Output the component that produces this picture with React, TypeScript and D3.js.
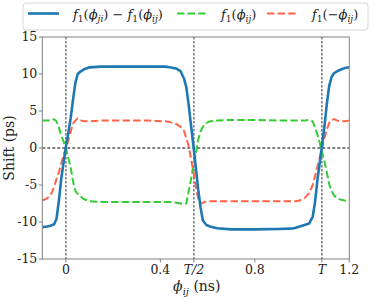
import * as d3 from "d3";

// phase grid (ns) and the three measured curves (ps)
const phi = [
  -0.1, -0.08, -0.065, -0.05, -0.04, -0.03, -0.02, -0.01, 0, 0.01, 0.02, 0.03,
  0.04, 0.05, 0.06, 0.075, 0.1, 0.15, 0.25, 0.35, 0.42, 0.44, 0.47, 0.485, 0.5,
  0.51, 0.52, 0.53, 0.54, 0.55, 0.56, 0.57, 0.58, 0.595, 0.61, 0.64, 0.7, 0.8,
  0.9, 0.95, 0.97, 0.99, 1.01, 1.03, 1.045, 1.055, 1.065, 1.075, 1.085, 1.095,
  1.105, 1.115, 1.125, 1.135, 1.15, 1.165, 1.18, 1.2,
];
const diff = [
  -10.7, -10.6, -10.5, -10.3, -9.6, -7.2, -4.2, -2.0, 0.2, 2.0, 4.0, 6.5,
  8.8, 10.0, 10.3, 10.6, 10.9, 11.0, 11.0, 11.0, 11.0, 10.9, 10.7, 10.4, 9.4,
  8.2, 5.8, 3.0, 0.3, -2.6, -5.6, -8.0, -9.8, -10.4, -10.6, -10.85, -11.0, -11.0,
  -10.95, -10.9, -10.8, -10.6, -10.4, -10.2, -9.3, -7.3, -4.3, -2.0, 0.5, 3.0,
  6.0, 8.4, 9.6, 10.1, 10.4, 10.6, 10.8, 10.9,
];
const fPos = [
  3.7, 3.7, 3.7, 3.9, 3.6, 2.8, 1.7, 0.9, 0.0, -1.3, -2.6, -4.5,
  -5.8, -6.2, -6.5, -6.9, -7.2, -7.3, -7.3, -7.3, -7.3, -7.3, -7.4, -7.5, -7.6,
  -7.5, -5.8, -4.2, -2.3, -0.9, 1.1, 2.2, 2.9, 3.4, 3.6, 3.7, 3.8, 3.8,
  3.7, 3.7, 3.7, 3.7, 3.7, 3.8, 3.6, 2.8, 1.8, 0.7, -0.6, -1.8,
  -3.3, -4.9, -5.8, -6.4, -6.8, -7.0, -7.1, -7.2,
];
const fNeg = [
  -7.1, -6.8, -6.4, -5.3, -4.2, -3.3, -2.1, -1.0, 0.0, 1.0, 2.2, 3.3,
  3.7, 4.0, 3.8, 3.6, 3.6, 3.7, 3.7, 3.7, 3.6, 3.5, 3.2, 2.9, 2.3,
  1.3, 0.2, -1.5, -3.2, -5.2, -6.8, -7.5, -7.4, -7.2, -7.2, -7.2, -7.2, -7.2,
  -7.2, -7.2, -7.2, -7.1, -6.8, -6.1, -5.0, -3.8, -2.5, -1.3, 0.0, 1.4,
  2.5, 3.4, 3.8, 3.9, 3.7, 3.6, 3.6, 3.7,
];

const period = 1.084;
const yTicks = [15, 10, 5, 0, -5, -10, -15];
const xTicks = [0, 0.4, period / 2, 0.8, period, 1.2];
const xTickLabels = ["0", "0.4", "T/2", "0.8", "T", "1.2"];
const markers = [0, period / 2, period];

type Seg = { t: string; it?: boolean; sub?: boolean };

const legendItems: { color: string; dash: string; width: number; label: Seg[] }[] = [
  {
    color: "#1f77b4",
    dash: "none",
    width: 2.6,
    label: [
      { t: "f", it: true }, { t: "1", sub: true }, { t: "(" }, { t: "ϕ", it: true },
      { t: "ji", it: true, sub: true }, { t: ") − " }, { t: "f", it: true },
      { t: "1", sub: true }, { t: "(" }, { t: "ϕ", it: true }, { t: "ij", it: true, sub: true },
      { t: ")" },
    ],
  },
  {
    color: "#32cd32",
    dash: "7.4 3.2",
    width: 2,
    label: [
      { t: "f", it: true }, { t: "1", sub: true }, { t: "(" }, { t: "ϕ", it: true },
      { t: "ij", it: true, sub: true }, { t: ")" },
    ],
  },
  {
    color: "#ff6347",
    dash: "7.4 3.2",
    width: 2,
    label: [
      { t: "f", it: true }, { t: "1", sub: true }, { t: "(−" }, { t: "ϕ", it: true },
      { t: "ij", it: true, sub: true }, { t: ")" },
    ],
  },
];

const FONT = '"DejaVu Serif", "Liberation Serif", "Noto Serif", serif';

function MathText({ x, y, segs, size }: { x: number; y: number; segs: Seg[]; size: number }) {
  let inSub = false;
  return (
    <text x={x} y={y} fontSize={size} fill="#222">
      {segs.map((s, i) => {
        let dy = 0;
        if (s.sub && !inSub) dy = size * 0.28;
        if (!s.sub && inSub) dy = -size * 0.28;
        inSub = !!s.sub;
        return (
          <tspan
            key={i}
            dy={dy}
            fontStyle={s.it ? "italic" : "normal"}
            fontSize={s.sub ? size * 0.7 : size}
          >
            {s.t}
          </tspan>
        );
      })}
    </text>
  );
}

export default function App() {
  const W = 374;
  const H = 299;
  const left = 42.3;
  const right = 349.3;
  const top = 37;
  const bottom = 259;

  const x = d3.scaleLinear().domain([-0.1, 1.2]).range([left, right]);
  const y = d3.scaleLinear().domain([-15, 15]).range([bottom, top]);

  const mk = (vals: number[]) =>
    d3
      .line<number>()
      .x((_, i) => x(phi[i]))
      .y((d) => y(d))(vals) || "";

  const series = [
    { vals: fPos, color: "#32cd32", dash: "7.4 3.2", w: 2 },
    { vals: fNeg, color: "#ff6347", dash: "7.4 3.2", w: 2 },
    { vals: diff, color: "#1f77b4", dash: "none", w: 2.6 },
  ];

  const spine = "#808080";
  const legendX = [28, 177, 267];
  const legendTextX = [73, 221, 312];

  return (
    <svg
      width={W}
      height={H}
      fontFamily={FONT}
      style={{ position: "absolute", left: 0, top: 0, background: "#fff" }}
    >
      <defs>
        <clipPath id="plot">
          <rect x={left} y={top} width={right - left} height={bottom - top} />
        </clipPath>
      </defs>

      {/* reference lines */}
      <line
        x1={left}
        x2={right}
        y1={y(0)}
        y2={y(0)}
        stroke="#000"
        strokeWidth={1}
        strokeDasharray="3 2"
      />
      {markers.map((m, i) => (
        <line
          key={i}
          x1={x(m)}
          x2={x(m)}
          y1={top}
          y2={bottom}
          stroke="#333"
          strokeWidth={1}
          strokeDasharray="2.5 1.5"
        />
      ))}

      <g clipPath="url(#plot)">
        {series.map((s, i) => (
          <path
            key={i}
            d={mk(s.vals)}
            fill="none"
            stroke={s.color}
            strokeWidth={s.w}
            strokeDasharray={s.dash}
            strokeLinejoin="round"
          />
        ))}
      </g>

      {/* frame */}
      <rect
        x={left}
        y={top}
        width={right - left}
        height={bottom - top}
        fill="none"
        stroke={spine}
        strokeWidth={1}
      />

      {/* y axis */}
      {yTicks.map((t) => (
        <g key={t}>
          <line x1={left - 3.5} x2={left} y1={y(t)} y2={y(t)} stroke={spine} />
          <text
            x={left - 5}
            y={y(t)}
            dy="0.35em"
            textAnchor="end"
            fontSize={12.5}
            fill="#222"
          >
            {String(t)}
          </text>
        </g>
      ))}
      <text
        transform={`translate(14,${(top + bottom) / 2}) rotate(-90)`}
        textAnchor="middle"
        fontSize={14}
        fill="#222"
      >
        Shift (ps)
      </text>

      {/* x axis */}
      {xTicks.map((t, i) => (
        <g key={i}>
          <line x1={x(t)} x2={x(t)} y1={bottom} y2={bottom + 3.5} stroke={spine} />
          <text
            x={x(t)}
            y={bottom + 15}
            textAnchor="middle"
            fontSize={12.5}
            fontStyle={xTickLabels[i].startsWith("T") ? "italic" : "normal"}
            fill="#222"
          >
            {xTickLabels[i]}
          </text>
        </g>
      ))}
      <text
        x={(left + right) / 2 + 1}
        y={bottom + 32}
        textAnchor="middle"
        fontSize={14}
        fill="#222"
      >
        <tspan fontStyle="italic">ϕ</tspan>
        <tspan fontStyle="italic" fontSize={10} dy={4}>
          ij
        </tspan>
        <tspan dy={-4}> (ns)</tspan>
      </text>

      {/* legend */}
      <rect
        x={23}
        y={3}
        width={345}
        height={27}
        rx={3}
        fill="#fff"
        fillOpacity={0.8}
        stroke="#d6d6d6"
        strokeWidth={1}
      />
      {legendItems.map((it, i) => (
        <g key={i}>
          <line
            x1={legendX[i]}
            x2={legendX[i] + 31}
            y1={13.5}
            y2={13.5}
            stroke={it.color}
            strokeWidth={it.width}
            strokeDasharray={it.dash}
          />
          <MathText x={legendTextX[i]} y={18.5} segs={it.label} size={13} />
        </g>
      ))}
    </svg>
  );
}
